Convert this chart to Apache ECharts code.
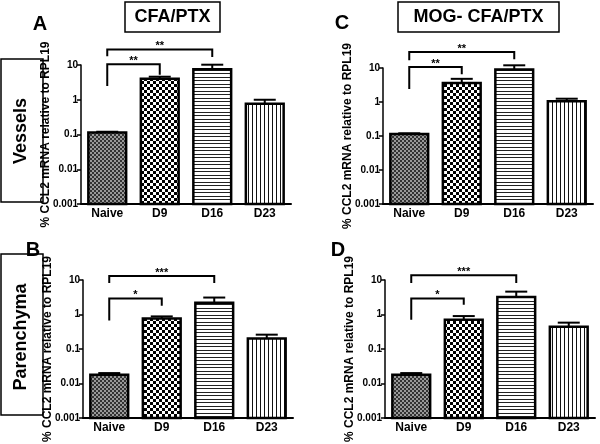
<!DOCTYPE html>
<html>
<head>
<meta charset="utf-8">
<script src="https://cdn.jsdelivr.net/npm/echarts@6/dist/echarts.min.js"></script>
<style>html,body{margin:0;padding:0;background:#fff}#c{width:600px;height:444px}</style>
</head>
<body>
<div id="c"></div>
<script>
// ---- data ----
const categories = ['Naive', 'D9', 'D16', 'D23'];
const yTickLabels = ['0.001', '0.01', '0.1', '1', '10'];
const yAxisName = '% CCL2 mRNA relative to RPL19';

const meanA = [0.115, 4.0, 7.5, 0.77];
const upperA = [0.12, 4.6, 10.2, 1.0];
const meanB = [0.018, 0.77, 2.2, 0.2];
const upperB = [0.02, 0.88, 3.1, 0.26];
const meanC = [0.115, 3.6, 9.0, 1.05];
const upperC = [0.12, 4.8, 12.0, 1.25];
const meanD = [0.018, 0.7, 3.2, 0.44];
const upperD = [0.02, 0.9, 4.6, 0.58];

// brackets: [fromIdx, toIdx, top value, left leg end, right leg end]
const bracketsA = [[0, 1, 10.5, 2.5, 5.2], [0, 2, 28, 18, 17]];
const starsA = ['**', '**'];
const bracketsC = [[0, 1, 10.7, 2.4, 6.6], [0, 2, 29.5, 17, 18]];
const starsC = ['**', '**'];
const bracketsB = [[0, 1, 2.9, 0.67, 1.8], [0, 2, 13, 8.2, 8.2]];
const starsB = ['*', '***'];
const bracketsD = [[0, 1, 2.9, 0.7, 1.9], [0, 2, 13.8, 8.2, 8.2]];
const starsD = ['*', '***'];

const panelTitles = ['CFA/PTX', 'MOG- CFA/PTX'];
const rowTitles = ['Vessels', 'Parenchyma'];
const panelLetters = ['A', 'B', 'C', 'D'];

// ---- patterns ----
function makeTile(w, h, draw) {
  const c = document.createElement('canvas');
  c.width = w; c.height = h;
  const ctx = c.getContext('2d');
  ctx.fillStyle = '#fff'; ctx.fillRect(0, 0, w, h);
  ctx.fillStyle = '#000';
  draw(ctx);
  return { image: c, repeat: 'repeat' };
}
const patterns = [
  makeTile(4, 4, ctx => { ctx.fillStyle = '#333'; ctx.fillRect(0, 0, 2, 2); ctx.fillRect(2, 2, 2, 2); ctx.fillStyle = '#999'; ctx.fillRect(2, 0, 2, 2); ctx.fillRect(0, 2, 2, 2); }),
  makeTile(6, 6, ctx => { ctx.fillRect(0, 0, 3, 3); ctx.fillRect(3, 3, 3, 3); }),
  makeTile(4, 7, ctx => { ctx.fillStyle = '#222'; ctx.fillRect(0, 0, 4, 1); ctx.fillRect(0, 3, 4, 1); }),
  makeTile(4, 4, ctx => { ctx.fillStyle = '#111'; ctx.fillRect(0, 0, 1, 4); })
];

const Y_MIN = 0.001, Y_MAX = 10;
const FONT = 'Liberation Sans, Arial, sans-serif';

const panels = [
  { mean: meanA, upper: upperA, br: bracketsA, st: starsA, grid: { left: 81, top: 65, width: 210, height: 139 } },
  { mean: meanB, upper: upperB, br: bracketsB, st: starsB, grid: { left: 83, top: 280, width: 210, height: 141 } },
  { mean: meanC, upper: upperC, br: bracketsC, st: starsC, grid: { left: 383, top: 68, width: 210, height: 136 } },
  { mean: meanD, upper: upperD, br: bracketsD, st: starsD, grid: { left: 385, top: 280, width: 210, height: 142 } }
];

const grids = [], xAxes = [], yAxes = [], series = [];
panels.forEach((p, i) => {
  grids.push(p.grid);
  xAxes.push({
    type: 'category', gridIndex: i, data: categories,
    axisLine: { lineStyle: { color: '#000', width: 2 } },
    axisTick: { show: false },
    axisLabel: { color: '#000', fontWeight: 'bold', fontSize: 12, fontFamily: FONT, margin: 4 }
  });
  yAxes.push({
    type: 'log', logBase: 10, gridIndex: i, min: Y_MIN, max: Y_MAX,
    name: yAxisName, nameLocation: 'middle', nameGap: 29, nameMoveOverlap: false,
    nameTextStyle: { color: '#000', fontWeight: 'bold', fontSize: 12, fontFamily: FONT },
    axisLine: { show: true, lineStyle: { color: '#000', width: 1.5 } },
    axisTick: { show: true, length: 4, lineStyle: { color: '#000', width: 1.5 } },
    splitLine: { show: false },
    axisLabel: {
      color: '#000', fontWeight: 'bold', fontSize: 10, fontFamily: FONT, margin: 3,
      formatter: v => yTickLabels[Math.round(Math.log10(v)) + 3]
    }
  });
  series.push({
    type: 'custom', xAxisIndex: i, yAxisIndex: i, clip: false,
    data: p.mean.map((v, k) => [k, v]),
    renderItem: (params, api) => {
      const idx = api.value(0), v = api.value(1);
      const top = api.coord([idx, v]);
      const base = api.coord([idx, Y_MIN]);
      const w = api.size([1, 1])[0] * 0.72;
      return {
        type: 'rect',
        shape: { x: top[0] - w / 2, y: top[1], width: w, height: base[1] - top[1] },
        style: { fill: patterns[idx], stroke: '#000', lineWidth: 2.5 }
      };
    }
  });
  series.push({
    type: 'custom', xAxisIndex: i, yAxisIndex: i, clip: false,
    data: p.mean.map((v, k) => [k, v, p.upper[k]]),
    renderItem: (params, api) => {
      const idx = api.value(0);
      const a = api.coord([idx, api.value(1)]);
      const b = api.coord([idx, api.value(2)]);
      const cw = 11;
      return {
        type: 'group', children: [
          { type: 'line', shape: { x1: a[0], y1: a[1], x2: b[0], y2: b[1] }, style: { stroke: '#000', lineWidth: 2 } },
          { type: 'line', shape: { x1: b[0] - cw, y1: b[1], x2: b[0] + cw, y2: b[1] }, style: { stroke: '#000', lineWidth: 2 } }
        ]
      };
    }
  });
  series.push({
    type: 'custom', xAxisIndex: i, yAxisIndex: i, clip: false,
    data: p.br,
    renderItem: (params, api) => {
      const x1 = api.value(0), x2 = api.value(1);
      const a = api.coord([x1, api.value(2)]);
      const b = api.coord([x2, api.value(2)]);
      const la = api.coord([x1, api.value(3)]);
      const lb = api.coord([x2, api.value(4)]);
      return {
        type: 'group', children: [
          { type: 'polyline', shape: { points: [[a[0], la[1]], [a[0], a[1]], [b[0], a[1]], [b[0], lb[1]]] }, style: { stroke: '#000', lineWidth: 2, fill: null } },
          { type: 'text', x: (a[0] + b[0]) / 2, y: a[1] + 2, style: { text: p.st[params.dataIndex], fill: '#000', font: 'bold 11px ' + FONT, align: 'center', verticalAlign: 'bottom' } }
        ]
      };
    }
  });
});

const graphic = [
  { type: 'rect', shape: { x: 125, y: 2, width: 95, height: 30 }, style: { fill: '#fff', stroke: '#000', lineWidth: 1.5 } },
  { type: 'text', x: 172.5, y: 17, style: { text: panelTitles[0], font: 'bold 18px ' + FONT, fill: '#000', align: 'center', verticalAlign: 'middle' } },
  { type: 'rect', shape: { x: 398, y: 2, width: 161, height: 30 }, style: { fill: '#fff', stroke: '#000', lineWidth: 1.5 } },
  { type: 'text', x: 478.5, y: 17, style: { text: panelTitles[1], font: 'bold 18px ' + FONT, fill: '#000', align: 'center', verticalAlign: 'middle' } },
  { type: 'rect', shape: { x: 1, y: 59, width: 42, height: 143 }, style: { fill: '#fff', stroke: '#000', lineWidth: 1.5 } },
  { type: 'text', x: 21, y: 131, rotation: Math.PI / 2, style: { text: rowTitles[0], font: 'bold 18px ' + FONT, fill: '#000', align: 'center', verticalAlign: 'middle' } },
  { type: 'rect', shape: { x: 1, y: 254, width: 42, height: 161 }, style: { fill: '#fff', stroke: '#000', lineWidth: 1.5 } },
  { type: 'text', x: 21, y: 337, rotation: Math.PI / 2, style: { text: rowTitles[1], font: 'bold 18px ' + FONT, fill: '#000', align: 'center', verticalAlign: 'middle' } },
  { type: 'text', x: 40, y: 24, style: { text: panelLetters[0], font: 'bold 20px ' + FONT, fill: '#000', align: 'center', verticalAlign: 'middle' } },
  { type: 'text', x: 33, y: 250, style: { text: panelLetters[1], font: 'bold 20px ' + FONT, fill: '#000', align: 'center', verticalAlign: 'middle' } },
  { type: 'text', x: 342, y: 23, style: { text: panelLetters[2], font: 'bold 20px ' + FONT, fill: '#000', align: 'center', verticalAlign: 'middle' } },
  { type: 'text', x: 338, y: 250, style: { text: panelLetters[3], font: 'bold 20px ' + FONT, fill: '#000', align: 'center', verticalAlign: 'middle' } }
];

const chart = echarts.init(document.getElementById('c'), null, { renderer: 'canvas' });
chart.setOption({
  animation: false,
  backgroundColor: '#fff',
  grid: grids, xAxis: xAxes, yAxis: yAxes, series: series, graphic: graphic
});
</script>
</body>
</html>
